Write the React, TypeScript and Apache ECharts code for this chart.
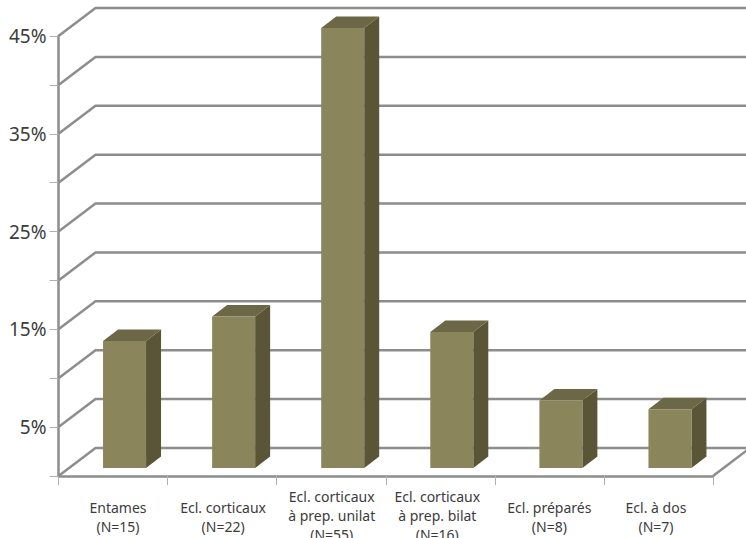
import React, { useEffect, useRef } from "react";
import * as echarts from "echarts";

// Share of each blank category, in percent
const categories = [
  "Entames\n(N=15)",
  "Ecl. corticaux\n(N=22)",
  "Ecl. corticaux\nà prep. unilat\n(N=55)",
  "Ecl. corticaux\nà prep. bilat\n(N=16)",
  "Ecl. préparés\n(N=8)",
  "Ecl. à dos\n(N=7)",
];
const shares = [13, 15.5, 45, 13.9, 6.9, 6];
const gridLevels = [5, 10, 15, 20, 25, 30, 35, 40, 45];
const labelledLevels = [5, 15, 25, 35, 45];

// Hand placement of the category captions, as [top, right, bottom, left] padding
const captionPadding = [
  [11, 0, 0, 10],
  [11, 0, 0, 2],
  [0, 0, 0, 1],
  [0, 6, 0, 0],
  [11, 0, 0, 0],
  [11, 5, 0, 0],
];

// Pseudo-3D projection: how far the back wall sits from the front plane,
// where a bar stands on the floor, and how deep each bar is.
const WALL_DX = 37;
const WALL_DY = -28;
const BAR_DX = 11.5;
const BAR_DY = -8;
const BAR_WIDTH = 43;
const BAR_DEPTH_X = 15;
const BAR_DEPTH_Y = -11.5;

const GRID_COLOR = "#8d8d8d";
const GRID_WIDTH = 2.5;
const TICK_COLOR = "#b0b0b0";
const TEXT_COLOR = "#3c3c3c";
const FRONT_COLOR = "#8a855a";
const SIDE_COLOR = "#5a5537";
const TOP_COLOR = "#6c6746";
const FONT = "'Noto Sans', sans-serif";

function renderWallLine(params: any, api: any) {
  const cs = params.coordSys;
  const y = api.coord([0, api.value(1)])[1];
  return {
    type: "polyline",
    shape: {
      points: [
        [cs.x, y],
        [cs.x + WALL_DX, y + WALL_DY],
        [cs.x + cs.width + WALL_DX, y + WALL_DY],
      ],
    },
    style: { stroke: GRID_COLOR, lineWidth: GRID_WIDTH, fill: "none" },
  };
}

function renderFloor(params: any, api: any) {
  const cs = params.coordSys;
  const y = api.coord([0, 0])[1];
  const right = cs.x + cs.width;
  return {
    type: "group",
    children: [
      {
        type: "polyline",
        shape: {
          points: [
            [cs.x, y],
            [cs.x + WALL_DX, y + WALL_DY],
            [right + WALL_DX, y + WALL_DY],
          ],
        },
        style: { stroke: GRID_COLOR, lineWidth: GRID_WIDTH, fill: "none" },
      },
      {
        type: "line",
        shape: { x1: right, y1: y, x2: right + WALL_DX, y2: y + WALL_DY },
        style: { stroke: GRID_COLOR, lineWidth: GRID_WIDTH },
      },
    ],
  };
}

function renderBar(_params: any, api: any) {
  const index = api.value(0);
  const base = api.coord([index, 0]);
  const top = api.coord([index, api.value(1)]);
  const x0 = base[0] + BAR_DX - BAR_WIDTH / 2;
  const x1 = x0 + BAR_WIDTH;
  const y0 = base[1] + BAR_DY;
  const y1 = top[1] + BAR_DY;
  return {
    type: "group",
    children: [
      {
        type: "polygon",
        shape: {
          points: [
            [x1, y1],
            [x1 + BAR_DEPTH_X, y1 + BAR_DEPTH_Y],
            [x1 + BAR_DEPTH_X, y0 + BAR_DEPTH_Y],
            [x1, y0],
          ],
        },
        style: { fill: SIDE_COLOR },
      },
      {
        type: "polygon",
        shape: {
          points: [
            [x0, y1],
            [x0 + BAR_DEPTH_X, y1 + BAR_DEPTH_Y],
            [x1 + BAR_DEPTH_X, y1 + BAR_DEPTH_Y],
            [x1, y1],
          ],
        },
        style: { fill: TOP_COLOR },
      },
      {
        type: "rect",
        shape: { x: x0, y: y1, width: BAR_WIDTH, height: y0 - y1 },
        style: { fill: FRONT_COLOR },
      },
    ],
  };
}

export default function App() {
  const ref = useRef<HTMLDivElement>(null);

  useEffect(() => {
    const chart = echarts.init(ref.current!, undefined, { renderer: "svg" });
    chart.setOption({
      animation: false,
      backgroundColor: "#ffffff",
      grid: {
        left: 58.5,
        right: 33,
        top: 36,
        bottom: 62,
        containLabel: false,
        outerBoundsMode: "none",
      },
      xAxis: {
        type: "category",
        data: categories.map((value, i) => ({
          value,
          textStyle: { padding: captionPadding[i] },
        })),
        boundaryGap: true,
        axisLine: { lineStyle: { color: GRID_COLOR, width: GRID_WIDTH } },
        axisTick: {
          show: true,
          alignWithLabel: false,
          length: 9,
          lineStyle: { color: TICK_COLOR, width: 1 },
        },
        axisLabel: {
          interval: 0,
          color: TEXT_COLOR,
          fontFamily: FONT,
          fontSize: 14,
          lineHeight: 19,
          verticalAlign: "top",
          margin: 11,
          hideOverlap: false,
        },
      },
      yAxis: {
        type: "value",
        min: 0,
        max: 45,
        interval: 5,
        splitLine: { show: false },
        axisLine: { show: true, lineStyle: { color: GRID_COLOR, width: GRID_WIDTH } },
        axisTick: {
          show: true,
          length: 9,
          lineStyle: { color: TICK_COLOR, width: 1 },
        },
        axisLabel: {
          color: TEXT_COLOR,
          fontFamily: FONT,
          fontSize: 19,
          margin: 12,
          formatter: (v: number) =>
            labelledLevels.includes(v) ? `${v}%` : "",
        },
      },
      series: [
        {
          type: "custom",
          silent: true,
          z: 1,
          clip: false,
          renderItem: renderWallLine,
          data: gridLevels.map((level) => [0, level]),
        },
        {
          type: "custom",
          silent: true,
          z: 1,
          clip: false,
          renderItem: renderFloor,
          data: [[0, 0]],
        },
        {
          type: "custom",
          silent: true,
          z: 3,
          clip: false,
          renderItem: renderBar,
          data: shares.map((share, i) => [i, share]),
        },
      ],
    });
    return () => chart.dispose();
  }, []);

  return (
    <div
      ref={ref}
      style={{
        position: "fixed",
        left: 0,
        top: 0,
        width: 746,
        height: 538,
      }}
    />
  );
}
